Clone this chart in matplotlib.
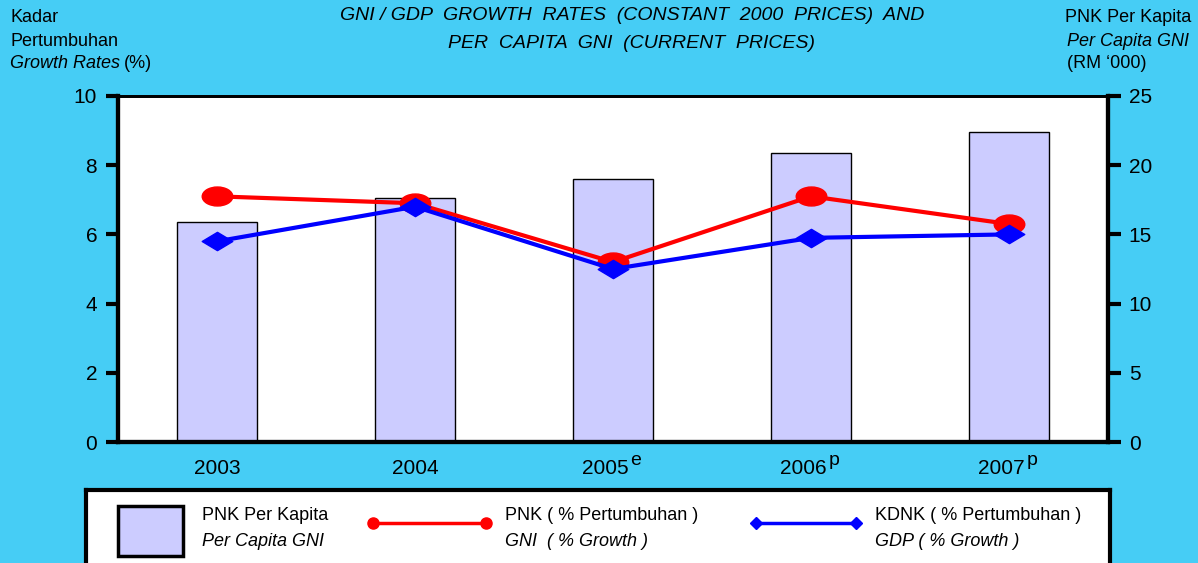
import numpy as np
import matplotlib.pyplot as plt
from matplotlib.path import Path
from matplotlib.patches import Rectangle
from matplotlib.lines import Line2D
import matplotlib.transforms as mtransforms

plt.rcParams['font.family'] = ['Liberation Sans', 'DejaVu Sans']

# data
years = ['2003', '2004', '2005', '2006', '2007']
year_marks = ['', '', 'e', 'p', 'p']
gni_per_capita = [15.9, 17.6, 19.0, 20.9, 22.4]   # RM '000
gni_growth = [7.1, 6.9, 5.2, 7.1, 6.3]            # %
gdp_growth = [5.8, 6.8, 5.0, 5.9, 6.0]            # %

# wide ellipse / wide diamond markers like the original
ellipse = Path.unit_circle().transformed(mtransforms.Affine2D().scale(1.0, 0.62))
diamond = Path([(-1, 0), (0, 0.6), (1, 0), (0, -0.6), (-1, 0)],
               [Path.MOVETO, Path.LINETO, Path.LINETO, Path.LINETO, Path.CLOSEPOLY])

bg = '#46cdf5'
W, H = 1198, 563
fig = plt.figure(figsize=(W / 100, H / 100), dpi=100, facecolor=bg)

def px(xp, yp):
    # pixel position (from top-left) -> figure fraction
    return xp / W, 1 - yp / H

ax = fig.add_axes([118 / W, 1 - 442 / H, 990 / W, 346 / H])
ax2 = ax.twinx()
x = np.arange(len(years))

# bars on the right axis, drawn behind the lines
ax2.set_zorder(1)
ax.set_zorder(2)
ax.patch.set_visible(False)
ax2.patch.set_facecolor('white')
ax2.patch.set_visible(True)
ax2.bar(x, gni_per_capita, width=0.4, color='#ccccff', edgecolor='black', linewidth=1)

ax.plot(x, gni_growth, color='#ff0000', lw=3, marker=ellipse, markersize=22, zorder=3)
ax.plot(x, gdp_growth, color='#0000ff', lw=3, marker=diamond, markersize=22, zorder=4)

ax.set_xlim(-0.5, 4.5)
ax.set_ylim(0, 10)
ax2.set_ylim(0, 25)
ax.set_yticks(range(0, 11, 2))
ax2.set_yticks(range(0, 26, 5))
ax.set_xticks(x)
ax.set_xticklabels(years)

for a in (ax, ax2):
    for s in a.spines.values():
        s.set_linewidth(3)
    a.spines['top'].set_linewidth(2)
ax.tick_params(axis='y', length=9, width=3, pad=6, labelsize=15)
ax2.tick_params(axis='y', length=9, width=3, pad=6, labelsize=15)
ax.tick_params(axis='x', length=0, pad=12, labelsize=15)

# years with an estimate/preliminary mark: shift the year left, add the mark
for lab, m in zip(ax.get_xticklabels(), year_marks):
    if m:
        shift = mtransforms.ScaledTranslation(-8 / 100, 0, fig.dpi_scale_trans)
        lab.set_transform(lab.get_transform() + shift)
for i, m in enumerate(year_marks):
    if m:
        ax.annotate(m, xy=(x[i], 0), xycoords=('data', 'axes fraction'),
                    xytext=(16.5, -13), textcoords='offset points',
                    fontsize=14, ha='center', va='center')

# header texts
fig.text(*px(632, 16), 'GNI / GDP  GROWTH  RATES  (CONSTANT  2000  PRICES)  AND',
         style='italic', fontsize=14, ha='center', va='center')
fig.text(*px(632, 44), 'PER  CAPITA  GNI  (CURRENT  PRICES)',
         style='italic', fontsize=14, ha='center', va='center')

fig.text(*px(10, 17), 'Kadar', fontsize=13, va='center')
fig.text(*px(10, 42), 'Pertumbuhan', fontsize=13, va='center')
t = fig.text(*px(10, 64), 'Growth Rates', fontsize=13, style='italic', va='center')
r = fig.canvas.get_renderer()
bb = t.get_window_extent(renderer=r)
fig.text((bb.x1 + 4) / W, 1 - 64 / H, '(%)', fontsize=13, va='center')

fig.text(*px(1065, 17), 'PNK Per Kapita', fontsize=13, va='center')
fig.text(*px(1067, 42), 'Per Capita GNI', fontsize=13, style='italic', va='center')
fig.text(*px(1067, 64), "(RM \u2018000)", fontsize=13, va='center')

# legend box, coordinates in pixels of the picture
lg = fig.add_axes([86 / W, -30 / H, 1024 / W, 103 / H])
lg.set_xticks([])
lg.set_yticks([])
for s in lg.spines.values():
    s.set_linewidth(3)
lg.set_xlim(86, 1110)
lg.set_ylim(593, 490)

lg.add_patch(Rectangle((118, 506), 65, 50, facecolor='#ccccff', edgecolor='black', lw=2.5))
lg.text(202, 516, 'PNK Per Kapita', fontsize=13, va='center')
lg.text(202, 541, 'Per Capita GNI', fontsize=13, style='italic', va='center')

lg.add_line(Line2D([373, 486], [523, 523], color='#ff0000', lw=2.5, marker='o', markersize=8))
lg.text(505, 516, 'PNK ( % Pertumbuhan )', fontsize=13, va='center')
lg.text(505, 541, 'GNI  ( % Growth )', fontsize=13, style='italic', va='center')

lg.add_line(Line2D([756, 856], [523, 523], color='#0000ff', lw=2.5, marker='D', markersize=6))
lg.text(875, 516, 'KDNK ( % Pertumbuhan )', fontsize=13, va='center')
lg.text(875, 541, 'GDP ( % Growth )', fontsize=13, style='italic', va='center')

fig.savefig('out.png', dpi=100, facecolor=bg)
